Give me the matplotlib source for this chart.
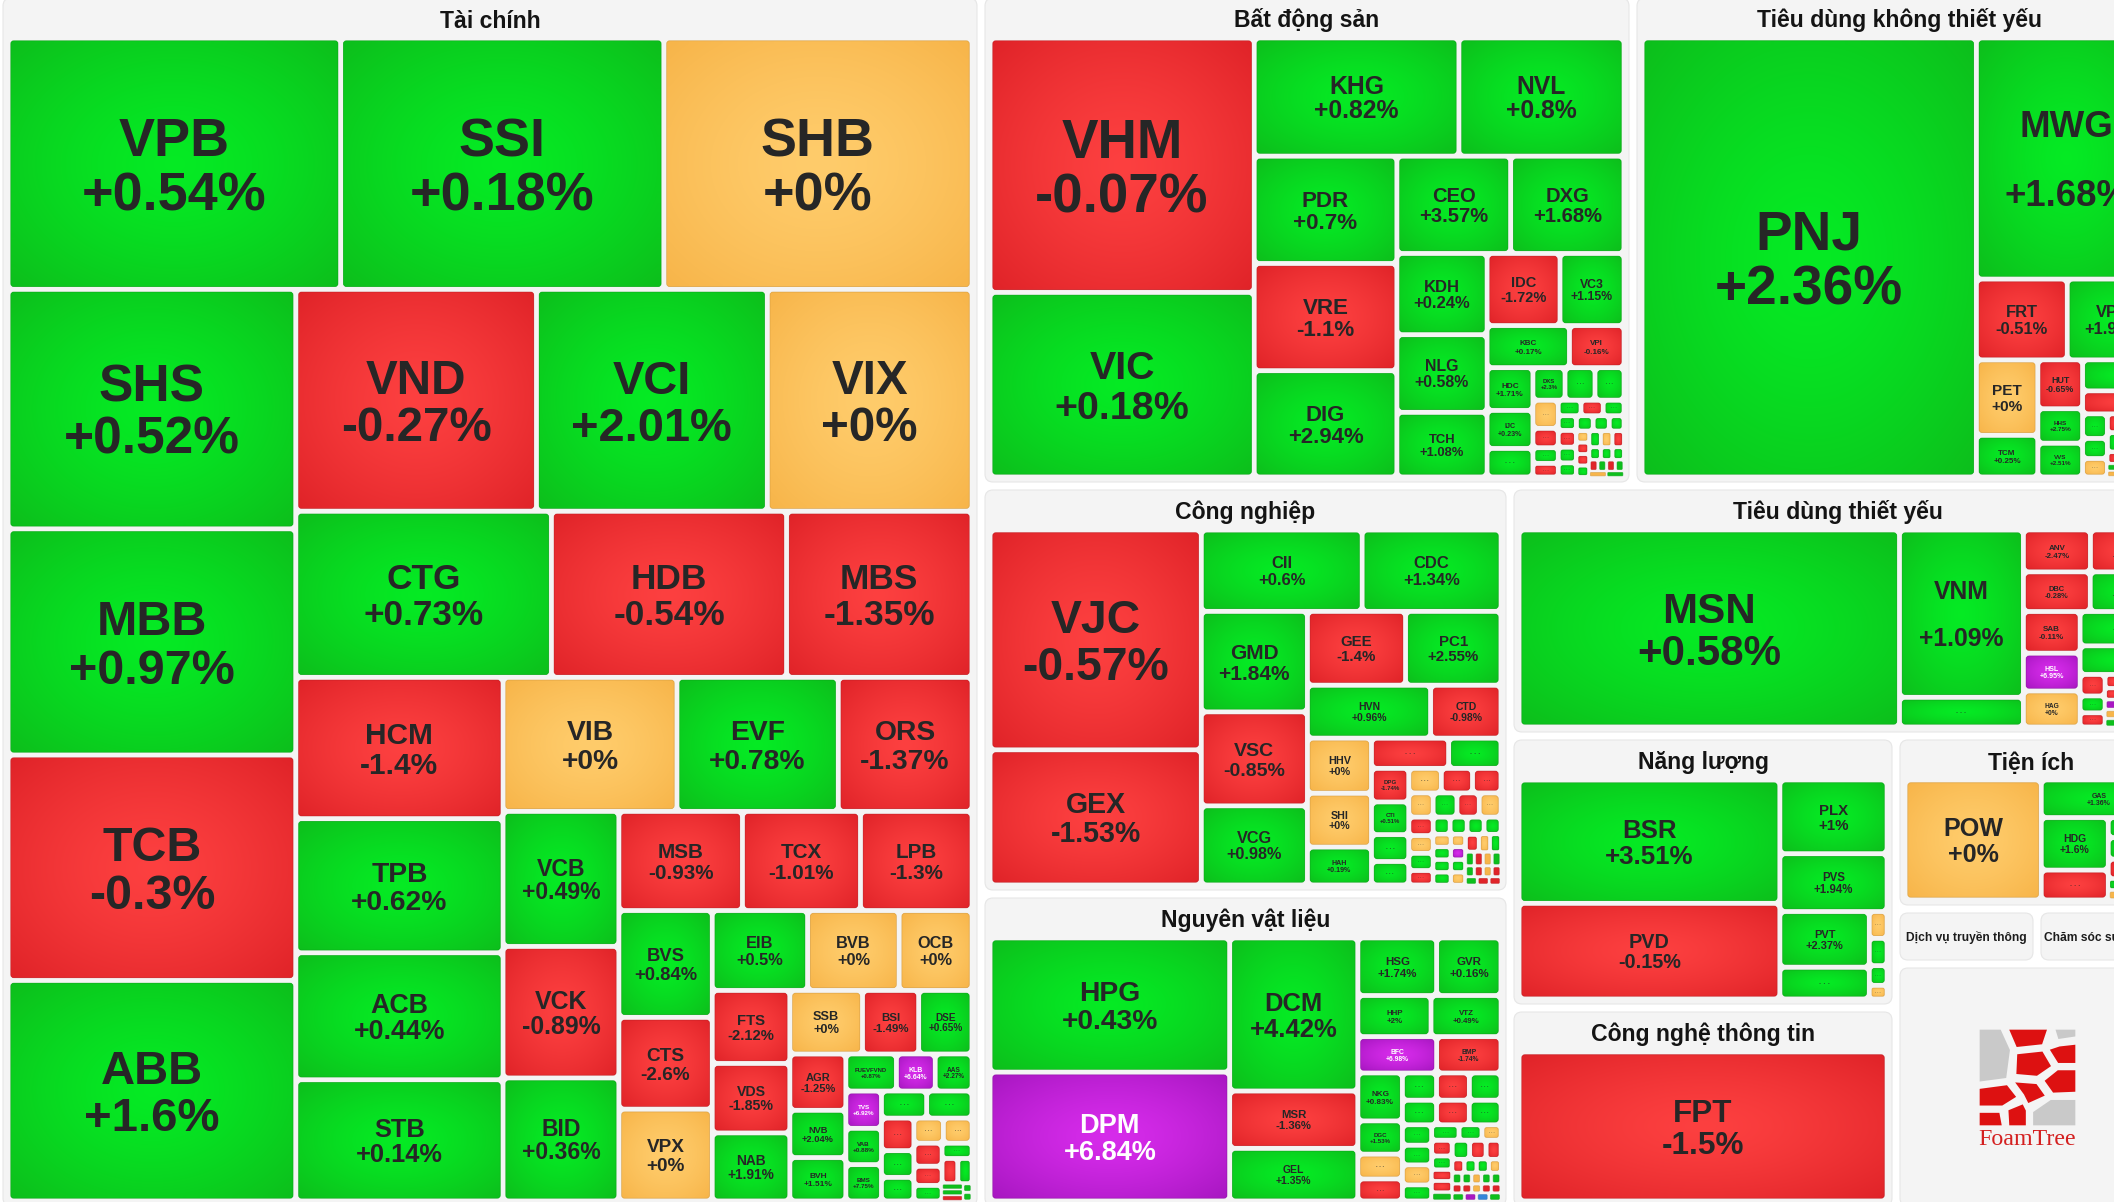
import numpy as np
import matplotlib
matplotlib.use("Agg")
import matplotlib.pyplot as plt
from matplotlib.patches import FancyBboxPatch, Polygon
from matplotlib.textpath import TextPath
from matplotlib.font_manager import FontProperties

plt.rcParams['font.family'] = ['Liberation Sans', 'DejaVu Sans']

# ====================== DATA ======================
# Hidden cells (label "...") are named "~n"; their sign.
TC_TICKERS = ['VPB','SSI','SHB','SHS','MBB','TCB','ABB','VND','VCI','VIX','CTG','HDB','MBS',
              'HCM','TPB','ACB','STB','VIB','EVF','ORS','VCB','VCK','BID','MSB','TCX','LPB',
              'BVS','CTS','VPX','EIB','BVB','OCB','FTS','VDS','NAB','SSB','BSI','DSE',
              'AGR','NVB','BVH','FUEVFVND','KLB','AAS','TVS','VAB','BMS',
              '~1','~2','~3','~4','~5','~6','~7','~8','~9','~10','~11','~12','~13','~14','~15','~16','~17','~18']
TC_CHANGE = [0.54,0.18,0,0.52,0.97,-0.3,1.6,-0.27,2.01,0,0.73,-0.54,-1.35,
             -1.4,0.62,0.44,0.14,0,0.78,-1.37,0.49,-0.89,0.36,-0.93,-1.01,-1.3,
             0.84,-2.6,0,0.5,0,0,-2.12,-1.85,1.91,0,-1.49,0.65,
             -1.25,2.04,1.51,0.87,6.64,2.27,6.92,0.88,7.75,
             0.5,0.5,-0.5,0.5,0.5,0,0,-0.5,-0.5,0.5,0.5,-0.5,0.5,0.5,0.5,-0.5,0.5,0.5]
TC_CAP = [839,815,777,692,653,651,637,536,514,456,426,392,309,
          294,279,264,252,234,217,180,157,153,143,123,117.5,111,
          100,86,86,76.5,73.3,58.4,56.9,54.2,53,46.4,35.9,34,
          31.6,26.6,24.4,18.8,14.4,13.7,13.3,13,13,
          12.3,12.3,10.6,8.7,7.7,7.4,7.2,6.5,5.4,4.4,4.6,4.0,3.6,1.2,1.2,1.2,0.8,0.8]

BDS_TICKERS = ['VHM','VIC','KHG','NVL','PDR','VRE','DIG','CEO','DXG','KDH','NLG','TCH','IDC','VC3',
               'KBC','VPI','HDC','IJC','DXS'] + ['~%d' % i for i in range(1, 34)]
BDS_CHANGE = [-0.07,0.18,0.82,0.8,0.7,-1.1,2.94,3.57,1.68,0.24,0.58,1.08,-1.72,1.15,
              0.17,-0.16,1.71,0.23,2.3,
              0.5,0.5,0.5,0,-0.5,0.5,-0.5,0.5,-0.5,0.5,0.5,-0.5,0.5,0.5,0.5,0.5,0.5,
              0,-0.5,-0.5,0.5,0.5,0,-0.5,0.5,0.5,0.5,-0.5,0.5,-0.5,0.5,0,0.5]
BDS_CAP = [682,495,245.5,198,155.4,155.4,153.9,112.4,111.9,74.4,71,59.2,53.4,46.9,
           35.2,23.3,19.9,17.7,10.6,
           13.3,9.9,9.6,7.2,5,4,3.5,3.6,3.5,3.3,2.7,3.1,2.9,2.6,2.6,2.5,2.3,
           1.5,1.5,1.5,1.5,1.9,1.9,1.9,1.5,1.5,1.5,1.0,1.0,1.0,1.0,1.0,1.0]

TDK_TICKERS = ['PNJ','MWG','FRT','VPL','PET','TCM','HUT','HHS','VVS'] + ['~%d' % i for i in range(1, 17)]
TDK_CHANGE = [2.36,1.68,-0.51,1.94,0,0.25,-0.65,2.75,2.51,
              0.5,-0.5,0.5,0.5,0,-0.5,0.5,-0.5,0.5,0,0.5,-0.5,0.5,0.5,0,-0.5]
TDK_CAP = [1476,438,73.8,73,46.6,25.8,22,15.5,15.2,
           23.2,17.2,6.1,5,4.6,3.0,3.1,1.9,1.1,1.0,4,3.5,3.2,3.8,3.4,3.5]

TDT_TICKERS = ['MSN','VNM','ANV','KDC','DBC','VHC','SAB','HSL','HAG'] + ['~%d' % i for i in range(1, 18)]
TDT_CHANGE = [0.58,1.09,-2.47,-0.5,-0.28,0.9,-0.11,6.95,0,
              0.5,0.5,0.5,-0.5,0.5,-0.5,-0.5,-0.5,6.9,0,0.5,0.5,-0.5,0.5,-0.5,0.5,0]
TDT_CAP = [765,211.5,28.7,28.5,27,27,24.1,21.9,20.8,
           37.6,27,22.4,5.5,4.3,3.6,2.0,1.6,1.4,1.3,1.2,3.8,3.4,3.0,3.8,3.3,3.1]

NL_TICKERS = ['BSR','PVD','PLX','PVS','PVT','~1','~2','~3','~4','~5']
NL_CHANGE = [3.51,-0.15,1,1.94,2.37,0.5,0,0.5,0.5,0]
NL_CAP = [330.8,256.8,81.3,63.7,51.2,29.2,4.9,5,3.6,2.5]

TI_TICKERS = ['POW','GAS','HDG','~1','~2','~3','~4','~5','~6']
TI_CHANGE = [0,1.36,1.6,-0.5,0.5,0.5,-0.5,0.5,0]
TI_CAP = [169,45,36.4,20.7,10.1,10.9,9.9,5.7,5]

IT_TICKERS = ['FPT']
IT_CHANGE = [-1.5]
IT_CAP = [100]

CN_TICKERS = ['VJC','GEX','CII','CDC','GMD','VSC','VCG','GEE','PC1','HVN','CTD','HHV','SHI','HAH',
              'DPG','CTI'] + ['~%d' % i for i in range(1, 42)]
CN_CHANGE = [-0.57,-1.53,0.6,1.34,1.84,-0.85,0.98,-1.4,2.55,0.96,-0.98,0,0,0.19,-1.74,0.51,
             -0.5,0.5,0.5,0.5,0,-0.5,-0.5,0,0.5,-0.5,0,-0.5,0,0.5,-0.5,0.5,0.5,0.5,0.5,
             0,0.5,0.5,0.5,0,6.9,0.5,0,-0.5,0,0.5,0.5,-0.5,0,0.5,0.5,-0.5,0,-0.5,0.5,-0.5,-0.5]
CN_CAP = [476.4,292.7,134.2,115.9,109.5,102.3,86.1,74.4,72.3,66.9,38.2,36.2,35.4,24.9,12.9,12.5,
          23.9,16.2,10.3,9.0,8.2,7.9,7.2,6,5.9,5.5,5.4,4.6,4.4,4.3,3.6,3,3,3,3,
          2.3,2.3,2.3,2.3,1.9,1.9,1.9,1.9,2.5,2,2,1.25,1.25,1.25,1.25,1,1,1,1,1,1,1]

NVL_TICKERS = ['HPG','DPM','DCM','MSR','GEL','HSG','GVR','HHP','VTZ','BFC','BMP','NKG','DGC'] + \
              ['~%d' % i for i in range(1, 42)]
NVL_CHANGE = [0.43,6.84,4.42,-1.36,1.35,1.74,0.16,2,0.49,6.98,-1.74,0.83,1.53,
              0,-0.5,0.5,-0.5,0.5,0.5,-0.5,0.5,0.5,0.5,0,0.5,0.5,0.5,0,-0.5,0.5,-0.5,-0.5,0.5,
              0.5,-0.5,-0.5,-0.5,0.5,0.5,0,0.5,0.5,0,0.5,0.5,-0.5,-0.5,0,-0.5,-0.5,0.5,6.9,-6.9,0.5]
NVL_CAP = [328.4,315.5,200.2,75,68.9,46.3,37.8,30.7,29.4,29.3,23.9,21.8,15.1,
           11.3,10,9.5,9.1,8.8,8.6,8.2,8.0,6.1,5.9,6,4.8,4.3,3.6,3,3.3,2.9,2.3,2.4,1.8,
           3.4,3.2,2.9,1.7,1.7,1.7,1.7,1.1,1.1,1.1,1.1,1.1,0.9,0.9,0.9,0.9,0.9,1,1,1,1]

CEILING = {'KLB', 'TVS', 'DPM', 'BFC', 'HSL', 'CN~25', 'TDT~9', 'NVL~39'}
FLOOR = {'NVL~40'}

# ====================== LAYOUT STRUCTURE ======================
def H(*k): return ('h', list(k))
def V(*k): return ('v', list(k))

t = H(V('~14','~15','~16'), V('~17','~18'))
t = V('~11', H('~12','~13'), t)
t = H(V('~8','~9','~10'), t)
t = V(H('~6','~7'), t)
t = H(V('~3','~4','~5'), t)
t = V(H('~1','~2'), t)
t = H(V('TVS','VAB','BMS'), t)
t = V(H('FUEVFVND','KLB','AAS'), t)
t = H(V('AGR','NVB','BVH'), t)
t = V(H('SSB','BSI','DSE'), t)
t = H(V('FTS','VDS','NAB'), t)
t = V(H('EIB','BVB','OCB'), t)
t = H(V('BVS','CTS','VPX'), t)
t = V(H('MSB','TCX','LPB'), t)
t = H(V('VCB','VCK','BID'), t)
t = V(H('VIB','EVF','ORS'), t)
t = H(V('HCM','TPB','ACB','STB'), t)
t = V(H('VND','VCI','VIX'), H('CTG','HDB','MBS'), t)
t = H(V('SHS','MBB','TCB','ABB'), t)
TC_TREE = V(H('VPB','SSI','SHB'), t)

t = H(V('~18','~19','~20','~21'),
      V(H('~22','~23','~24'), H('~25','~26','~27'), H('~28','~29','~30','~31'), H('~32','~33')))
t = V(H('~15','~16','~17'), t)
t = H(V('~11','~12','~13','~14'), t)
t = V(H('~8','~9','~10'), t)
t = H(V('~4','~5','~6','~7'), t)
t = V(H('DXS','~2','~3'), t)
t = H(V('HDC','IJC','~1'), t)
t = V(H('IDC','VC3'), H('KBC','VPI'), t)
t = H(V('KDH','NLG','TCH'), t)
t = V(H('CEO','DXG'), t)
t = H(V('PDR','VRE','DIG'), t)
t = V(H('KHG','NVL'), t)
BDS_TREE = H(V('VHM','VIC'), t)

t = H(V('~6','~7','~8','~9','~10'), V('~11','~12','~13'), V('~14','~15','~16'))
t = H(V('~3','~4','~5'), t)
t = V('~1', '~2', t)
t = H(V('PET','TCM'), V('HUT','HHS','VVS'), t)
t = V('MWG', H('FRT','VPL'), t)
TDK_TREE = H('PNJ', t)

t = H(V('~7','~8','~9','~10','~11'), V('~12','~13','~14'), V('~15','~16','~17'))
t = H(V('~4','~5','~6'), t)
t = V('~2', '~3', t)
t = H(V('SAB','HSL','HAG'), t)
t = V(H('ANV','KDC'), H('DBC','VHC'), t)
TDT_TREE = H('MSN', V('VNM','~1'), t)

NL_TREE = H(V('BSR','PVD'), V('PLX','PVS', H(V('PVT','~1'), V('~2','~3','~4','~5'))))
TI_TREE = H('POW', V('GAS', H(V('HDG','~1'), V('~2','~3','~4','~5','~6'))))
IT_TREE = 'FPT'

t = V(H('~28','~29','~30'), H('~31','~32','~33','~34'), H('~35','~36','~37','~38'), H('~39','~40','~41'))
t = H(V('~20','~21','~22','~23'), V('~24','~25','~26','~27'), t)
t = V(H('~16','~17','~18','~19'), t)
t = H(V('~12','~13','~14','~15'), t)
t = V(H('~5','~6','~7'), H('~8','~9','~10','~11'), t)
t = H(V('DPG','CTI','~3','~4'), t)
t = V(H('~1','~2'), t)
t = H(V('HHV','SHI','HAH'), t)
t = V(H('GEE','PC1'), H('HVN','CTD'), t)
t = H(V('GMD','VSC','VCG'), t)
t = V(H('CII','CDC'), t)
CN_TREE = H(V('VJC','GEX'), t)

t = V(H('~21','~22','~23'), H('~24','~25','~26','~27'), H('~28','~29','~30','~31','~32'),
      H('~33','~34','~35','~36','~37'), H('~38','~39','~40','~41'))
t = H(V('~16','~17','~18','~19','~20'), t)
t = V(H('~13','~14','~15'), t)
t = H(V('~9','~10','~11','~12'), t)
t = V(H('~3','~4','~5'), H('~6','~7','~8'), t)
t = H(V('NKG','DGC','~1','~2'), t)
t = V(H('HSG','GVR'), H('HHP','VTZ'), H('BFC','BMP'), t)
NVL_TREE = H(V('HPG','DPM'), V('DCM','MSR','GEL'), t)

GROUPS = [
    ('Tài chính', 'TC', TC_TREE, TC_TICKERS, TC_CHANGE, TC_CAP),
    ('Bất động sản', 'BDS', BDS_TREE, BDS_TICKERS, BDS_CHANGE, BDS_CAP),
    ('Tiêu dùng không thiết yếu', 'TDK', TDK_TREE, TDK_TICKERS, TDK_CHANGE, TDK_CAP),
    ('Công nghiệp', 'CN', CN_TREE, CN_TICKERS, CN_CHANGE, CN_CAP),
    ('Nguyên vật liệu', 'NVL', NVL_TREE, NVL_TICKERS, NVL_CHANGE, NVL_CAP),
    ('Tiêu dùng thiết yếu', 'TDT', TDT_TREE, TDT_TICKERS, TDT_CHANGE, TDT_CAP),
    ('Năng lượng', 'NL', NL_TREE, NL_TICKERS, NL_CHANGE, NL_CAP),
    ('Tiện ích', 'TI', TI_TREE, TI_TICKERS, TI_CHANGE, TI_CAP),
    ('Công nghệ thông tin', 'IT', IT_TREE, IT_TICKERS, IT_CHANGE, IT_CAP),
]

# top level panel arrangement (relative sizes)
PANEL_TREE = ('h', [(982, 'Tài chính'),
                    (1185, ('v', [(492, ('h', [(652, 'Bất động sản'), (533, 'Tiêu dùng không thiết yếu')])),
                                  (724, ('h', [(529, ('v', [(408, 'Công nghiệp'), (316, 'Nguyên vật liệu')])),
                                               (656, ('v', [(250, 'Tiêu dùng thiết yếu'),
                                                            (474, ('h', [(386, ('v', [(272, 'Năng lượng'), (202, 'Công nghệ thông tin')])),
                                                                         (270, ('v', [(173, 'Tiện ích'),
                                                                                      (55, ('h', [(141, 'Dịch vụ truyền thông'), (129, 'Chăm sóc sức khỏe')])),
                                                                                      (246, 'FoamTree')]))]))]))]))]))])
ROOT = (-1, -6, 2166, 1210)

# ====================== STYLE ======================
W, HGT, DPI = 2114, 1202, 100
PX = 72.0 / DPI
COLORS = {
    'g': ((0.02, 0.92, 0.14), (0.05, 0.75, 0.11)),
    'r': ((0.99, 0.25, 0.25), (0.88, 0.14, 0.16)),
    'o': ((1.00, 0.80, 0.42), (0.97, 0.71, 0.29)),
    'p': ((0.84, 0.17, 0.92), (0.66, 0.09, 0.76)),
    'b': ((0.35, 0.68, 0.96), (0.20, 0.52, 0.85)),
}
n = 48
yy, xx = np.mgrid[-1:1:n * 1j, -1:1:n * 1j]
tt = np.clip(np.sqrt(xx ** 2 + yy ** 2) / np.sqrt(2), 0, 1) ** 1.4
GRAD = {}
for k, (c0, c1) in COLORS.items():
    c0 = np.array(c0); c1 = np.array(c1)
    GRAD[k] = c0[None, None, :] * (1 - tt[..., None]) + c1[None, None, :] * tt[..., None]

FP = FontProperties(family='Liberation Sans', weight='bold')
_emc = {}
def em(s):
    if s not in _emc:
        _emc[s] = TextPath((0, 0), s, size=1, prop=FP).get_extents().width
    return _emc[s]

def fmt(v):
    s = ('%+.2f' % v).rstrip('0').rstrip('.')
    return s + '%'

def wsum(node, cap):
    if isinstance(node, str):
        return cap[node]
    return sum(wsum(k, cap) for k in node[1])

def layout(node, cap, x0, y0, x1, y1, out):
    if isinstance(node, str):
        out.append((node, x0, y0, x1, y1)); return
    d, kids = node
    ws = [wsum(k, cap) for k in kids]
    tot = sum(ws)
    pos = x0 if d == 'h' else y0
    span = (x1 - x0) if d == 'h' else (y1 - y0)
    for k, w in zip(kids, ws):
        L = span * w / tot
        if d == 'h':
            layout(k, cap, pos, y0, pos + L, y1, out)
        else:
            layout(k, cap, x0, pos, x1, pos + L, out)
        pos += L

def split_sized(node, x0, y0, x1, y1, out):
    if isinstance(node, str):
        out[node] = (x0, y0, x1, y1); return
    d, kids = node
    tot = sum(s for s, _ in kids)
    pos = x0 if d == 'h' else y0
    span = (x1 - x0) if d == 'h' else (y1 - y0)
    for s, k in kids:
        L = span * s / tot
        if d == 'h':
            split_sized(k, pos, y0, pos + L, y1, out)
        else:
            split_sized(k, x0, pos, x1, pos + L, out)
        pos += L

# ====================== DRAW ======================
fig = plt.figure(figsize=(W / DPI, HGT / DPI), dpi=DPI)
fig.patch.set_facecolor('white')
ax = fig.add_axes([0, 0, 1, 1])
ax.set_facecolor('white')

panels = {}
split_sized(PANEL_TREE, *ROOT, panels)

def panel_box(name):
    x0, y0, x1, y1 = panels[name]
    return x0 + 4, y0 + 4, x1 - 4, y1 - 4

for name in panels:
    px0, py0, px1, py1 = panel_box(name)
    ax.add_patch(FancyBboxPatch((px0, py0), px1 - px0, py1 - py0,
                                boxstyle="round,pad=0,rounding_size=8",
                                fc='#f4f4f4', ec='#e6e6e6', lw=0.8, zorder=1))

def draw_cell(key_name, x0, y0, x1, y1, change, cls):
    w, h = x1 - x0, y1 - y0
    g = min(2.75, 0.2 * min(w, h))
    x0 += g; y0 += g; x1 -= g; y1 -= g
    w, h = x1 - x0, y1 - y0
    if w <= 0.5 or h <= 0.5:
        return
    r = max(0.3, min(3.0, 0.2 * min(w, h)))
    c0, c1 = COLORS[cls]
    patch = FancyBboxPatch((x0, y0), w, h, boxstyle="round,pad=0,rounding_size=%g" % r,
                           fc=c1, ec='none', lw=0, zorder=3)
    ax.add_patch(patch)
    if w > 6 and h > 6:
        im = ax.imshow(GRAD[cls], extent=(x0, x1, y1, y0), interpolation='bilinear',
                       zorder=3.1, aspect='auto')
        im.set_clip_path(patch)
    edge = tuple(np.array(c1) * 0.85)
    ax.add_patch(FancyBboxPatch((x0, y0), w, h, boxstyle="round,pad=0,rounding_size=%g" % r,
                                fc='none', ec=edge, lw=0.6, alpha=0.6, zorder=3.2))
    tcol = 'white' if cls == 'p' else '#262626'
    cx, cy = (x0 + x1) / 2, (y0 + y1) / 2
    if key_name.startswith('~'):
        if w >= 12 and h >= 8:
            fs = max(4.0, min(8.0, 0.3 * h, 0.2 * w))
            ax.text(cx, cy + 0.1 * fs, '. . .', ha='center', va='baseline', fontsize=fs * PX,
                    fontweight='bold', color=tcol, alpha=0.8, zorder=5)
        return
    l1, l2 = key_name, fmt(change)
    emw = max(em(l1), em(l2))
    fw = 0.70 * w / emw
    fh = 0.22 * h
    f = min(55.0, fw, fh)
    if f < 3.5:
        return
    ls = 1.9 if (fw < fh and fw < 55 and h / w > 1.3) else 1.0
    for i, s in enumerate((l1, l2)):
        lc = cy + (i - 0.5) * ls * f
        ax.text(cx, lc + 0.36 * f, s, ha='center', va='baseline', fontsize=f * PX,
                fontweight='bold', color=tcol, zorder=5)

for title, code, tree, tickers, changes, caps in GROUPS:
    assert len(tickers) == len(changes) == len(caps), code
    cap = dict(zip(tickers, caps))
    chg = dict(zip(tickers, changes))
    px0, py0, px1, py1 = panel_box(title)
    ax.text((px0 + px1) / 2, py0 + 29.5, title, ha='center', va='baseline',
            fontsize=23 * PX, fontweight='bold', color='#141414', zorder=2)
    cells = []
    layout(tree, cap, px0 + 5, py0 + 40, px1 - 5, py1 - 5, cells)
    for tk, x0, y0, x1, y1 in cells:
        key = tk if not tk.startswith('~') else code + tk
        v = chg[tk]
        if key in CEILING:
            cls = 'p'
        elif key in FLOOR:
            cls = 'b'
        else:
            cls = 'g' if v > 0 else ('r' if v < 0 else 'o')
        draw_cell(tk, x0, y0, x1, y1, v, cls)

# collapsed groups (title only)
for name in ['Dịch vụ truyền thông', 'Chăm sóc sức khỏe']:
    px0, py0, px1, py1 = panel_box(name)
    ax.text((px0 + px1) / 2, (py0 + py1) / 2 + 4.5, name, ha='center', va='baseline',
            fontsize=12 * PX, fontweight='bold', color='#1c1c1c', zorder=2)

# FoamTree logo
px0, py0, px1, py1 = panel_box('FoamTree')
size = 99.0
lx0 = (px0 + px1) / 2 - 3.5 - size / 2
ly0 = py0 + 60
LOGO = [
    ('#c9c9c9', [(0, 0), (0.24, 0), (0.34, 0.22), (0.3, 0.52), (0, 0.56)]),
    ('#dd1111', [(0.29, 0), (0.72, 0), (0.66, 0.18), (0.38, 0.21)]),
    ('#c9c9c9', [(0.76, 0), (1, 0), (1, 0.1), (0.8, 0.13)]),
    ('#dd1111', [(0.7, 0.21), (0.82, 0.17), (1, 0.15), (1, 0.37), (0.8, 0.37)]),
    ('#dd1111', [(0.38, 0.25), (0.66, 0.22), (0.76, 0.39), (0.6, 0.5), (0.37, 0.48)]),
    ('#dd1111', [(0.8, 0.41), (1, 0.41), (1, 0.66), (0.75, 0.67), (0.65, 0.53)]),
    ('#dd1111', [(0, 0.6), (0.3, 0.56), (0.41, 0.7), (0.25, 0.8), (0, 0.8)]),
    ('#dd1111', [(0.34, 0.53), (0.6, 0.55), (0.7, 0.69), (0.5, 0.78), (0.45, 0.68)]),
    ('#dd1111', [(0, 0.84), (0.23, 0.84), (0.26, 1), (0, 1)]),
    ('#dd1111', [(0.29, 0.82), (0.46, 0.75), (0.5, 0.83), (0.5, 1), (0.3, 1)]),
    ('#c9c9c9', [(0.54, 0.84), (0.73, 0.71), (1, 0.71), (1, 1), (0.54, 1)]),
]
for col, pts in LOGO:
    P = [(lx0 + u * size, ly0 + v * size) for u, v in pts]
    ax.add_patch(Polygon(P, closed=True, fc=col, ec='#f4f4f4', lw=2.4, joinstyle='round', zorder=3))
ax.text(lx0 + size / 2, ly0 + size + 18, 'FoamTree', ha='center', va='baseline',
        fontsize=24 * PX, family='Liberation Serif', color='#d42020', zorder=3)

ax.set_xlim(0, W)
ax.set_ylim(HGT, 0)
ax.axis('off')
fig.savefig('out.png', dpi=DPI, facecolor='white')
